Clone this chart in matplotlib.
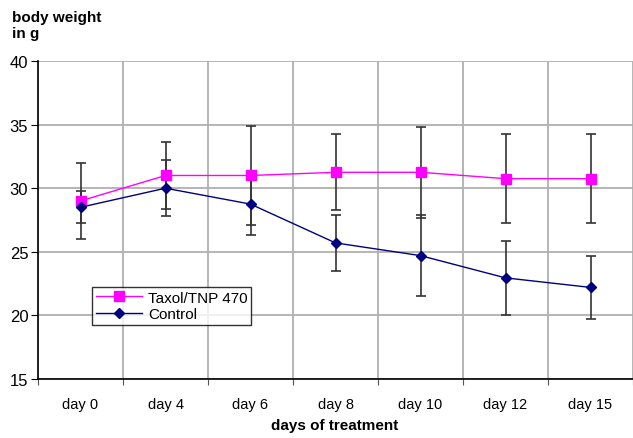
import matplotlib
matplotlib.use("Agg")
import matplotlib.pyplot as plt
import numpy as np

plt.rcParams['font.family'] = ['Liberation Sans', 'DejaVu Sans']

days = ['day 0', 'day 4', 'day 6', 'day 8', 'day 10', 'day 12', 'day 15']
taxol = [29.0, 31.0, 31.0, 31.25, 31.25, 30.75, 30.75]
taxol_err = [3.0, 2.6, 3.9, 3.0, 3.6, 3.5, 3.5]
control = [28.5, 30.0, 28.75, 25.7, 24.7, 22.95, 22.2]
control_err = [1.25, 2.2, 2.45, 2.2, 3.2, 2.9, 2.5]

fig = plt.figure(figsize=(6.33, 4.39), dpi=100)
ax = fig.add_axes([38 / 633, 59 / 439, 595 / 633, 318 / 439])

x = np.arange(len(days)) + 0.5

# error bars first, then lines with markers on top
ax.errorbar(x, control, yerr=control_err, fmt='none', ecolor='#333333',
            elinewidth=1.2, capsize=3.5, capthick=1.2, zorder=3)
ax.errorbar(x, taxol, yerr=taxol_err, fmt='none', ecolor='#333333',
            elinewidth=1.2, capsize=3.5, capthick=1.2, zorder=3)
ax.plot(x, taxol, color='#ff00ff', lw=1, marker='s', markersize=7,
        markerfacecolor='#ff00ff', markeredgecolor='#ff00ff',
        label='Taxol/TNP 470', zorder=4)
ax.plot(x, control, color='#000080', lw=1, marker='D', markersize=5.5,
        markerfacecolor='#000080', markeredgecolor='#000080',
        label='Control', zorder=4)

ax.set_xlim(0, len(days))
ax.set_ylim(15, 40)
ax.set_yticks(np.arange(15, 41, 5))
ax.set_xticks(np.arange(0, len(days) + 1), minor=False)
ax.set_xticklabels([])
ax.set_xticks(x, minor=True)
ax.set_xticklabels(days, minor=True, fontsize=10.5)
ax.tick_params(axis='x', which='minor', length=0, pad=13)
ax.tick_params(axis='x', which='major', length=4, direction='out', color='#555555')
ax.tick_params(axis='y', length=5, direction='out', labelsize=12, pad=2)

ax.grid(True, which='major', color='#b0b0b0', lw=1.3)
ax.set_axisbelow(True)
for s in ['top', 'right']:
    ax.spines[s].set_visible(False)
ax.spines['left'].set_linewidth(1.2)
ax.spines['bottom'].set_linewidth(1.2)

fig.text(12 / 633, 1 - 26 / 439, 'body weight\nin g', fontsize=11,
         fontweight='bold', va='center', ha='left', linespacing=1.15)
fig.text(335 / 633, 1 - 426 / 439, 'days of treatment', fontsize=11,
         fontweight='bold', ha='center', va='center')

leg = ax.legend(loc='upper left', bbox_to_anchor=(54 / 595, 92 / 318),
                frameon=True, fancybox=False, edgecolor='black',
                fontsize=11, handlelength=3, borderpad=0.25,
                labelspacing=0.15, borderaxespad=0, handletextpad=0.4)
leg.get_frame().set_linewidth(1)

fig.savefig('out.png', dpi=100)
